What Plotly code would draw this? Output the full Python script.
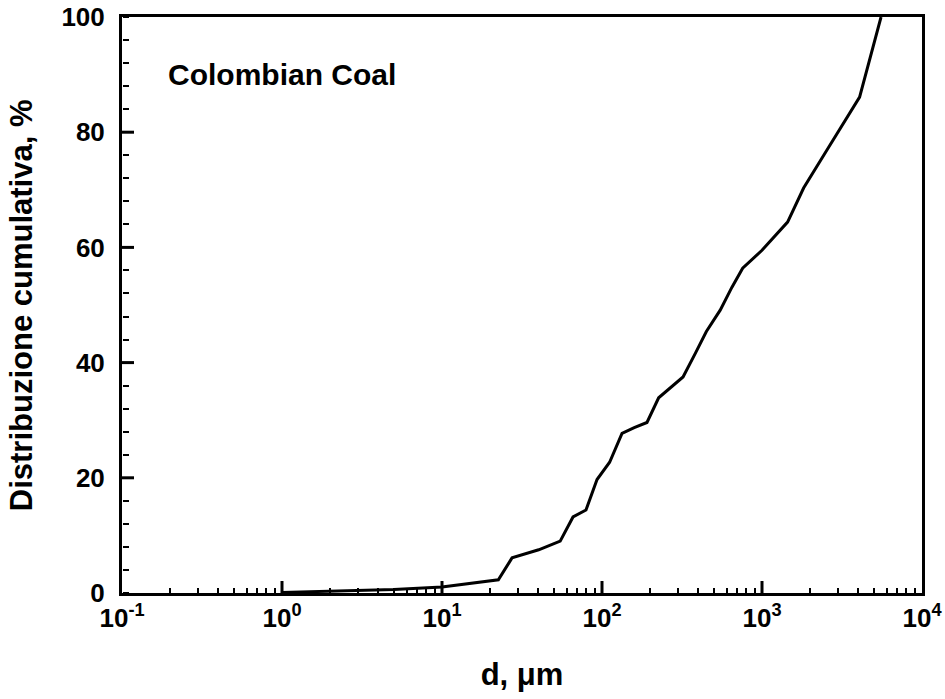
import plotly.graph_objects as go

# Cumulative particle size distribution of Colombian coal
diameter_um = [1.0, 2.0, 5.0, 10.0, 22.5, 27.4, 40.2, 54.8, 65.9, 79.4, 93.1, 111.6,
               133.4, 159.0, 191.0, 226.0, 321.0, 383.0, 449.0, 548.0, 649.0, 757.0,
               1000.0, 1445.0, 1820.0, 2547.0, 4074.0, 5546.0]
cumulative_pct = [0.1, 0.35, 0.6, 1.05, 2.3, 6.1, 7.5, 9.0, 13.2, 14.4, 19.7, 22.7,
                  27.7, 28.7, 29.6, 33.9, 37.5, 41.6, 45.4, 49.1, 53.1, 56.4,
                  59.5, 64.4, 70.3, 76.9, 86.1, 100.0]

x_tickvals = [0.1, 1, 10, 100, 1000, 10000]
x_ticktext = ["10<sup>-1</sup>", "10<sup>0</sup>", "10<sup>1</sup>",
              "10<sup>2</sup>", "10<sup>3</sup>", "10<sup>4</sup>"]
y_tickvals = [0, 20, 40, 60, 80, 100]
x_minor_vals = [m * 10.0 ** e for e in range(-1, 4) for m in range(2, 10)]

FONT = "Liberation Sans, Arial, sans-serif"
X_RANGE = [-1, 4]
Y_RANGE = [0, 100]
MAJOR_LEN_PX = 12
PLOT_W, PLOT_H = 800, 576

fig = go.Figure()
fig.add_trace(go.Scatter(
    x=diameter_um, y=cumulative_pct, mode="lines",
    line=dict(color="black", width=3), showlegend=False,
))
# empty trace so the tick-only overlay axes get their own subplot
fig.add_trace(go.Scatter(x=[], y=[], xaxis="x2", yaxis="y2",
                         showlegend=False, hoverinfo="skip"))

fig.add_annotation(
    x=0.055, y=0.9, xref="paper", yref="paper", xanchor="left", yanchor="middle",
    text="<b>Colombian Coal</b>", showarrow=False,
    font=dict(family=FONT, size=30, color="black"),
)
fig.add_annotation(
    x=-0.126, y=0.5, xref="paper", yref="paper", xanchor="center", yanchor="middle",
    text="<b>Distribuzione cumulativa, %</b>", textangle=-90, showarrow=False,
    font=dict(family=FONT, size=31, color="black"),
)

# major ticks pointing into the plot, placed on the axis scales
for v in x_tickvals[1:-1]:
    fig.add_shape(type="line", xref="x", yref="y domain", x0=v, x1=v,
                  y0=0, y1=MAJOR_LEN_PX / PLOT_H, line=dict(color="black", width=3))
for v in y_tickvals[1:-1]:
    fig.add_shape(type="line", xref="x domain", yref="y", x0=0, x1=MAJOR_LEN_PX / PLOT_W,
                  y0=v, y1=v, line=dict(color="black", width=3))


def tick_axis(**kw):
    """Overlay axis on the bottom/left frame edge whose outward ticks point into the plot."""
    base = dict(anchor="free", position=0, showticklabels=False, ticks="outside",
                tickcolor="black", showline=False, showgrid=False,
                zeroline=False, automargin=False)
    base.update(kw)
    return base


fig.update_layout(
    xaxis=dict(
        type="log", range=X_RANGE,
        tickmode="array", tickvals=x_tickvals, ticktext=x_ticktext,
        ticks="", showline=True, linecolor="black", linewidth=3, mirror=True,
        showgrid=False, zeroline=False, automargin=False,
        tickfont=dict(family=FONT, size=26, color="black", weight="bold"),
        title=dict(text="<b>d, μm</b>", font=dict(family=FONT, size=31, color="black"),
                   standoff=32),
    ),
    yaxis=dict(
        range=Y_RANGE, tickmode="array", tickvals=y_tickvals,
        ticks="", showline=True, linecolor="black", linewidth=3, mirror=True,
        showgrid=False, zeroline=False, automargin=False,
        tickfont=dict(family=FONT, size=26, color="black", weight="bold"),
        ticklabelstandoff=9,
    ),
    # minor ticks
    xaxis2=tick_axis(type="log", range=X_RANGE, overlaying="x", side="top",
                     tickmode="array", tickvals=x_minor_vals, ticklen=5, tickwidth=2),
    yaxis2=tick_axis(range=Y_RANGE, overlaying="y", side="right",
                     tickmode="linear", tick0=0, dtick=4, ticklen=6, tickwidth=2),
    width=945, height=699,
    margin=dict(l=122, r=23, t=17, b=106),
    plot_bgcolor="white", paper_bgcolor="white",
)

fig.write_html("out.html")
